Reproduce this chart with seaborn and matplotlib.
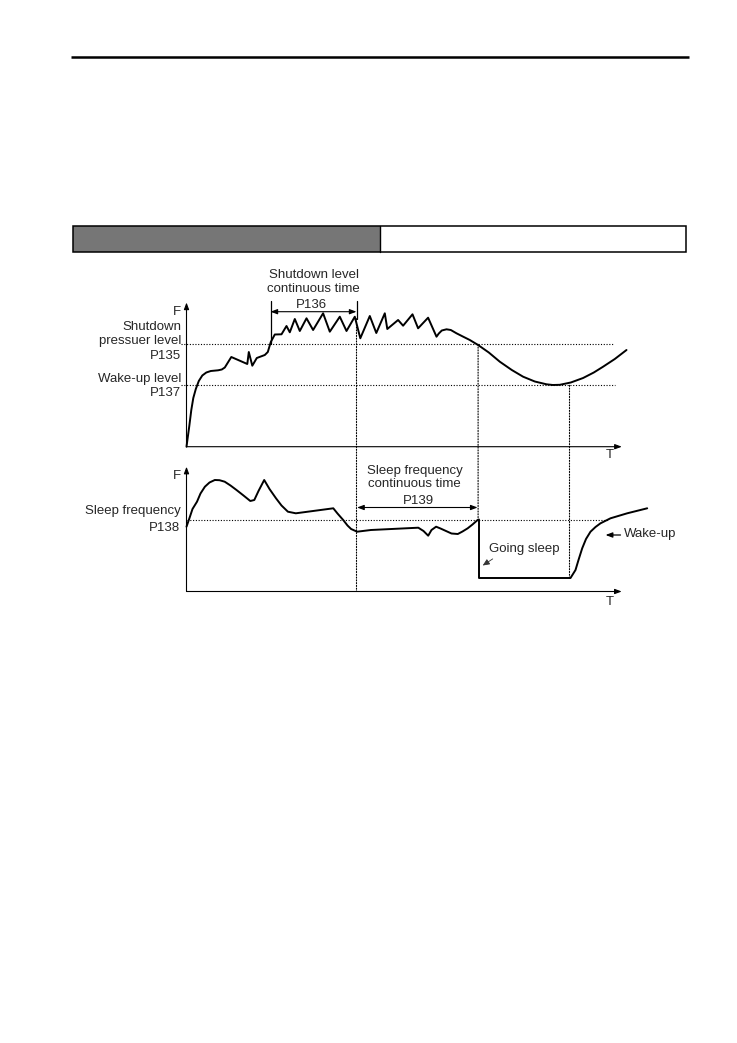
import matplotlib
matplotlib.use("Agg")
import matplotlib.pyplot as plt
import seaborn as sns
from matplotlib.patches import Rectangle, ConnectionPatch

# ---------------- data (time units / level units) -------------
# upper diagram: feedback pressure F versus time T
top_t = [0, 1.3, 2.8, 4.8, 6.8, 9.3, 12.3, 15.8, 19.8, 24.3, 31.6, 35.3, 38.3, 44.8,
         60.8, 62.3, 65.8, 70.3, 78.3, 81.3, 84.3, 88.3, 95, 100, 103.3, 108.3, 113.3,
         120, 126.6, 136.6, 143.3, 153.3, 160, 168.3, 173.8, 183.3, 189.8, 198.3, 200.8,
         211.6, 216.6, 226, 231.6, 241.6, 250, 252.3, 255.3, 260, 264.3, 270, 276.3,
         283.3, 291.6, 302.3, 313.3, 325.3, 336.6, 348.3, 360, 366.3, 373.3, 384.3,
         396.6, 407.3, 416.6, 428.3, 440]
top_f = [0, 9.7, 20.7, 36.7, 48.7, 57.7, 65.7, 71.2, 74.2, 75.7, 76.4, 77.2, 79.2, 89.7,
         82.7, 94.7, 81, 88.7, 91.7, 94.7, 104.7, 112.2, 112.4, 120.7, 114.4, 127.7, 115.7,
         128.4, 116.7, 133.4, 115, 130, 115.7, 130, 108.4, 130.7, 113.7, 133.4, 117.7,
         126.7, 121, 132.4, 118.4, 129, 110, 113.2, 116.2, 117.4, 116.7, 113.4, 110.2,
         106.7, 101.7, 94.2, 85, 76.7, 70, 65.2, 62.4, 61.7, 61.9, 64.2,
         68.7, 74.2, 80, 87.7, 96.7]

# lower diagram: output frequency F versus time T
bot_t = [0, 3, 6, 10.5, 14, 18.4, 23, 28.3, 33, 38.2, 44, 50, 57, 63.8, 67.8, 72, 77.7,
         83, 89.5, 95, 101.4, 109.3, 146.8, 151, 156.7, 161, 164.6, 170.6, 184.4, 231.8,
         237, 241.7, 245, 249.6, 254, 259.5, 265, 271.3, 276, 281.2, 286, 291.1, 292.5,
         292.5, 384, 389, 392, 395.7, 399.5, 404, 409, 414, 424, 440.7, 460.7]
bot_f = [64.8, 73.5, 82.5, 89.8, 98, 104.8, 109, 111.5, 111.3, 109.8, 106, 101.5, 96,
         90.5, 91.5, 100.5, 111.5, 102.5, 93.2, 86, 79.8, 78.2, 83.2, 78, 71.5, 66, 62.5,
         59.8, 61.5, 63.8, 60.5, 55.8, 61.5, 64.8, 63, 60.5, 58, 57.5, 60, 63.2, 67, 71.5,
         72, 13.5, 13.5, 21.5, 31.5, 43.2, 52.5, 59.8, 64.5, 68.2, 73.2, 78.2, 83.2]

shutdown_level = 102.4   # P135
wakeup_level = 61.4      # P137
sleep_freq = 72.0        # P138
t_shut_start = 84.0      # pressure exceeds shutdown level
t_shut_end = 170.0       # start + P136
t_below = 291.6          # frequency held below P138 for P139 -> sleep
t_wake = 383.0           # pressure falls to wake-up level

top_labels = ["F", "Shutdown", "pressuer level", "P135", "Wake-up level", "P137"]
bot_labels = ["F", "Sleep frequency", "P138"]

# ---------------- figure ----------------
sns.set_theme(style="white")
plt.rcParams["font.family"] = ["Liberation Sans", "DejaVu Sans"]
FS = 9.5
W, H = 737, 1043
fig = plt.figure(figsize=(W / 100, H / 100), dpi=100)
fig.patch.set_facecolor("white")

page = fig.add_axes([0, 0, 1, 1])
page.set_xlim(0, W)
page.set_ylim(H, 0)
page.axis("off")
page.plot([71.4, 688.6], [57.3, 57.3], color="black", lw=1.8, solid_capstyle="butt")
page.add_patch(Rectangle((73.2, 225.7), 306.8, 26.3, facecolor="#767676", edgecolor="none"))
page.add_patch(Rectangle((73.2, 225.7), 613.1, 26.3, fill=False, edgecolor="black", lw=1.1))
page.plot([380, 380], [225.7, 252], color="black", lw=1.0)


def box(x0, x1, y0, y1):
    return [x0 / W, 1 - y1 / H, (x1 - x0) / W, (y1 - y0) / H]


ax1 = fig.add_axes(box(186.5, 656.5, 296.0, 446.7))
ax1.set_xlim(0, 470)
ax1.set_ylim(0, 150.7)
ax2 = fig.add_axes(box(186.5, 656.5, 466.7, 591.5))
ax2.set_xlim(0, 470)
ax2.set_ylim(0, 124.8)
for a in (ax1, ax2):
    a.axis("off")
    a.patch.set_alpha(0)

DOT = (0, (1, 1.5))
axis_arrow = dict(arrowstyle="-|>,head_length=0.4,head_width=0.15", lw=0.8,
                  color="black", mutation_scale=10, shrinkA=0, shrinkB=0)
dbl_arrow = dict(arrowstyle="<|-|>,head_length=0.4,head_width=0.15", lw=0.8,
                 color="black", mutation_scale=10, shrinkA=0, shrinkB=0)

# ---- upper diagram ----
ax1.annotate("", xy=(435.3, 0), xytext=(0, 0), arrowprops=axis_arrow, annotation_clip=False)
ax1.annotate("", xy=(0, 144.2), xytext=(0, 0), arrowprops=axis_arrow, annotation_clip=False)
ax1.plot([-5.4, 426.3], [shutdown_level] * 2, color="black", lw=0.8, ls=DOT, clip_on=False)
ax1.plot([-5.4, 428.3], [wakeup_level] * 2, color="black", lw=0.8, ls=DOT, clip_on=False)
sns.lineplot(x=top_t, y=top_f, ax=ax1, color="black", lw=1.4, estimator=None, sort=False)
for ln in ax1.lines:
    ln.set_clip_on(False)
ax1.plot([t_shut_start] * 2, [shutdown_level, 146.2], color="black", lw=0.9)
ax1.plot([t_shut_end] * 2, [128, 146.2], color="black", lw=0.9)
ax1.annotate("", xy=(t_shut_end, 135), xytext=(t_shut_start, 135), arrowprops=dbl_arrow,
             annotation_clip=False)
ax1.text(125.3, 142.2, "P136", fontsize=FS, ha="center", va="center")
ax1.text(127.1, 171.7, "Shutdown level", fontsize=FS, ha="center", va="center")
ax1.text(127.1, 157.7, "continuous time", fontsize=FS, ha="center", va="center")
for lab, fy in zip(top_labels, [134.4, 119.4, 105.7, 90.7, 67.4, 53.4]):
    ax1.text(-5.4, fy, lab, fontsize=FS, ha="right", va="center")
ax1.text(423.5, -8.8, "T", fontsize=FS, ha="center", va="center")

# ---- lower diagram ----
ax2.annotate("", xy=(435.2, 0), xytext=(0, 0), arrowprops=axis_arrow, annotation_clip=False)
ax2.annotate("", xy=(0, 124.8), xytext=(0, 0), arrowprops=axis_arrow, annotation_clip=False)
ax2.plot([0, 422], [sleep_freq] * 2, color="black", lw=0.8, ls=DOT, clip_on=False)
sns.lineplot(x=bot_t, y=bot_f, ax=ax2, color="black", lw=1.4, estimator=None, sort=False)
for ln in ax2.lines:
    ln.set_clip_on(False)
ax2.annotate("", xy=(291.1, 84), xytext=(170.6, 84), arrowprops=dbl_arrow,
             annotation_clip=False)
ax2.text(232, 90.8, "P139", fontsize=FS, ha="center", va="center")
ax2.text(228, 120.5, "Sleep frequency", fontsize=FS, ha="center", va="center")
ax2.text(228, 107.2, "continuous time", fontsize=FS, ha="center", va="center")
for lab, fy in zip(bot_labels, [115.8, 80.5, 63.8]):
    ax2.text(-6, fy, lab, fontsize=FS, ha="right", va="center")
ax2.text(423.5, -10.5, "T", fontsize=FS, ha="center", va="center")
ax2.text(302.3, 42.2, "Going sleep", fontsize=FS, ha="left", va="center")
ax2.annotate("", xy=(296.2, 26.0), xytext=(306.2, 32.6),
             arrowprops=dict(arrowstyle="-|>,head_length=0.45,head_width=0.2", lw=0.6,
                             color="#333333", mutation_scale=9, shrinkA=0, shrinkB=0),
             annotation_clip=False)
ax2.annotate("", xy=(419, 56.5), xytext=(434, 56.5),
             arrowprops=dict(arrowstyle="-|>,head_length=0.4,head_width=0.15", lw=0.9,
                             color="black", mutation_scale=10, shrinkA=0, shrinkB=0),
             annotation_clip=False)
ax2.text(437.3, 57.2, "Wake-up", fontsize=FS, ha="left", va="center")

# ---- dotted guides running through both diagrams ----
for (t, fa, fb) in [(t_shut_end, 128, 0), (t_below, shutdown_level, sleep_freq),
                    (t_wake, wakeup_level, 13.5)]:
    cp = ConnectionPatch(xyA=(t, fa), coordsA=ax1.transData, xyB=(t, fb),
                         coordsB=ax2.transData, color="black", lw=0.8, linestyle=DOT)
    fig.add_artist(cp)

fig.savefig("out.png", dpi=100, facecolor="white")
